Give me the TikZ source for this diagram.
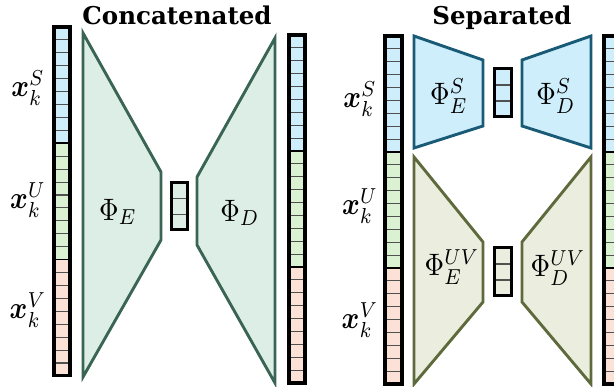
\documentclass[tikz,border=0pt]{standalone}
\usepackage{amsmath,bm}
\usepackage{fontspec}
\newfontfamily\titlefont{DejaVu Serif}
\definecolor{cblue}{RGB}{205,238,250}
\definecolor{cgreen}{RGB}{218,242,209}
\definecolor{cred}{RGB}{252,226,214}
\definecolor{mintfill}{RGB}{221,238,230}
\definecolor{mintline}{RGB}{58,100,84}
\definecolor{olivefill}{RGB}{235,237,223}
\definecolor{oliveline}{RGB}{95,106,60}
\definecolor{blueline}{RGB}{25,90,118}
\definecolor{sepgray}{RGB}{80,80,80}
\tikzset{
  barborder/.style={draw=black,line width=3.2pt},
  cellsep/.style={draw=sepgray,line width=1.1pt},
  secsep/.style={draw=black,line width=1.8pt},
  trapmint/.style={draw=mintline,fill=mintfill,line width=2.9pt,line join=miter},
  trapblue/.style={draw=blueline,fill=cblue,line width=2.9pt,line join=miter},
  trapolive/.style={draw=oliveline,fill=olivefill,line width=2.9pt,line join=miter},
  lbl/.style={inner sep=0pt},
  ttl/.style={inner sep=0pt,anchor=base,font=\titlefont\bfseries\fontsize{24.5}{28}\selectfont}
}
\newcommand{\mylab}[1]{\scalebox{2.7}[3.1]{$#1$}}
\newcommand{\featbar}[4]{%
  \fill[cblue] (#1,#3) rectangle (#2,#3+#4);
  \fill[cgreen] (#1,#3+#4) rectangle (#2,#3+2*#4);
  \fill[cred] (#1,#3+2*#4) rectangle (#2,#3+3*#4);
  \foreach \i in {1,...,26} \draw[cellsep] (#1,{#3+\i*#4/9}) -- (#2,{#3+\i*#4/9});
  \draw[secsep] (#1,#3+#4) -- (#2,#3+#4);
  \draw[secsep] (#1,#3+2*#4) -- (#2,#3+2*#4);
  \draw[barborder] (#1,#3) rectangle (#2,#3+3*#4);
}
\newcommand{\latbox}[5]{%
  \fill[#5] (#1,#3) rectangle (#2,#4);
  \draw[cellsep] (#1,{#3+(#4-#3)/3}) -- (#2,{#3+(#4-#3)/3});
  \draw[cellsep] (#1,{#3+2*(#4-#3)/3}) -- (#2,{#3+2*(#4-#3)/3});
  \draw[draw=black,line width=3pt] (#1,#3) rectangle (#2,#4);
}
\begin{document}
\begin{tikzpicture}[x=1pt,y=-1pt]
\useasboundingbox (0,0) rectangle (614,387);
% ---------- Concatenated ----------
\node[ttl] (t1) at (177,25) {Concatenated};
\featbar{54}{70}{27}{116.3}
\featbar{289}{305}{35}{116}
\draw[trapmint] (83,33) -- (161,172) -- (161,240) -- (83,377) -- cycle;
\draw[trapmint] (275,38) -- (197,177) -- (197,245) -- (275,383) -- cycle;
\latbox{171}{187}{183}{230}{mintfill}
\node[lbl] (pe) at (118,212) {\mylab{\Phi_E}};
\node[lbl] (pd) at (240,213) {\mylab{\Phi_D}};
\node[lbl] (xs1) at (28,88) {\mylab{\bm{x}_k^S}};
\node[lbl] (xu1) at (28,200) {\mylab{\bm{x}_k^U}};
\node[lbl] (xv1) at (28,310) {\mylab{\bm{x}_k^V}};
% ---------- Separated ----------
\node[ttl] (t2) at (502,25) {Separated};
\featbar{385}{402}{36}{116}
\featbar{604}{621}{36}{116}
\draw[trapblue] (414,36) -- (483,60) -- (483,126) -- (414,148) -- cycle;
\draw[trapblue] (591,36) -- (522,60) -- (522,126) -- (591,148) -- cycle;
\latbox{494}{511}{69}{117}{cblue}
\draw[trapolive] (414,157) -- (483,242) -- (483,302) -- (414,384) -- cycle;
\draw[trapolive] (591,157) -- (522,242) -- (522,302) -- (591,384) -- cycle;
\latbox{494}{511}{248}{296}{olivefill}
\node[lbl] (pes) at (449,96) {\mylab{\Phi_E^S}};
\node[lbl] (pds) at (556,96) {\mylab{\Phi_D^S}};
\node[lbl] (peuv) at (452,267) {\mylab{\Phi_E^{UV}}};
\node[lbl] (pduv) at (558,268) {\mylab{\Phi_D^{UV}}};
\node[lbl] (xs2) at (360,99) {\mylab{\bm{x}_k^S}};
\node[lbl] (xu2) at (360,206) {\mylab{\bm{x}_k^U}};
\node[lbl] (xv2) at (360,320) {\mylab{\bm{x}_k^V}};
\end{tikzpicture}
\end{document}
